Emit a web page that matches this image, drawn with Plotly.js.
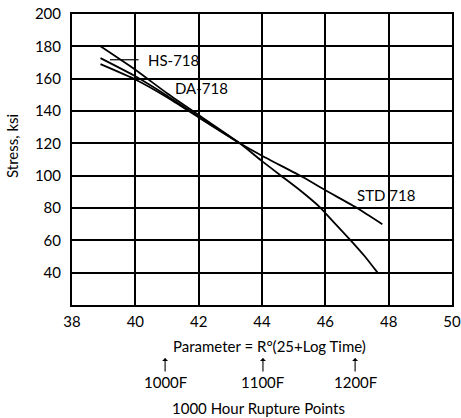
<!DOCTYPE html>
<html>
<head>
<meta charset="utf-8">
<script src="https://cdn.plot.ly/plotly-3.0.1.min.js"></script>
<style>html,body{margin:0;padding:0;background:#fff;}#chart{width:461px;height:418px;}</style>
</head>
<body>
<div id="chart"></div>
<script>
// Larson-Miller parameter vs stress (ksi)
const daX = [38.9, 40, 41, 42, 43.3, 44, 44.6, 45.2, 45.8, 46.3, 46.8, 47.25, 47.65];
const daY = [180, 165.5, 151, 137.5, 120, 109, 100, 91, 81, 70.5, 60, 50, 40];
const hsX = [38.9, 40, 41, 42, 43.3];
const hsY = [172.7, 161.5, 149.5, 136.5, 120];
const stdX = [38.9, 40, 41, 42, 43.3, 44, 45.3, 46, 47, 47.8];
const stdY = [169, 159.5, 148.5, 136, 120, 112.3, 99, 91, 80, 70];

const xTicks = [38, 40, 42, 44, 46, 48, 50];
const yTicks = [40, 60, 80, 100, 120, 140, 160, 180, 200];
const tempMarks = [40.94, 44.03, 46.94];
const tempLabels = ['1000F', '1100F', '1200F'];

const FONT = 'Lato, "Open Sans", sans-serif';
const line = {color: '#000', width: 1.8, shape: 'spline', smoothing: 0.5};

const traces = [
  {x: daX, y: daY, mode: 'lines', name: 'DA-718', line: line, hoverinfo: 'skip'},
  {x: hsX, y: hsY, mode: 'lines', name: 'HS-718', line: line, hoverinfo: 'skip'},
  {x: stdX, y: stdY, mode: 'lines', name: 'STD 718', line: line, hoverinfo: 'skip'}
];

const annotations = [
  {x: 40.35, y: 171.7, xref: 'x', yref: 'y', text: 'HS-718', showarrow: false, xanchor: 'left', yanchor: 'middle', font: {size: 15}},
  {x: 41.2, y: 154.5, xref: 'x', yref: 'y', text: 'DA-718', showarrow: false, xanchor: 'left', yanchor: 'middle', font: {size: 15}},
  {x: 46.95, y: 88, xref: 'x', yref: 'y', text: 'STD 718', showarrow: false, xanchor: 'left', yanchor: 'middle', font: {size: 15}},
  {x: (12 - 72) / 380, y: (305 - 146) / 291, xref: 'paper', yref: 'paper', text: 'Stress, ksi', textangle: -90, showarrow: false, xanchor: 'center', yanchor: 'middle', font: {size: 15}},
  {x: 0.52, y: (305 - 346) / 291, xref: 'paper', yref: 'paper', text: 'Parameter = R°(25+Log Time)', showarrow: false, xanchor: 'center', yanchor: 'middle', font: {size: 15}},
  {x: 0.49, y: (305 - 408) / 291, xref: 'paper', yref: 'paper', text: '1000 Hour Rupture Points', showarrow: false, xanchor: 'center', yanchor: 'middle', font: {size: 15}}
];
tempMarks.forEach((t, i) => {
  annotations.push({x: t, y: (305 - 382) / 291, xref: 'x', yref: 'paper', text: tempLabels[i], showarrow: false, xanchor: 'center', yanchor: 'middle', font: {size: 15}});
  annotations.push({x: t, y: (305 - 358) / 291, xref: 'x', yref: 'paper', text: '', showarrow: true, arrowhead: 1, arrowsize: 0.9, arrowwidth: 1.1, arrowcolor: '#000', ax: 0, ay: 15});
});

const shapes = [
  {type: 'line', xref: 'x', yref: 'y', x0: 39.2, x1: 40.1, y0: 171.7, y1: 171.7, line: {color: '#000', width: 1.2}}
];

const layout = {
  width: 461, height: 418,
  margin: {l: 72, r: 9, t: 14, b: 113},
  paper_bgcolor: '#fff', plot_bgcolor: '#fff',
  showlegend: false,
  font: {family: FONT, size: 15, color: '#000'},
  xaxis: {range: [38, 50], tickvals: xTicks, ticktext: xTicks.map(String), showgrid: true, gridcolor: '#000', gridwidth: 2,
          showline: true, mirror: true, linecolor: '#000', linewidth: 2, zeroline: false, ticks: '', ticklabelstandoff: 2,
          tickfont: {size: 15}},
  yaxis: {range: [20, 200], tickvals: yTicks, ticktext: yTicks.map(String), showgrid: true, gridcolor: '#000', gridwidth: 2,
          showline: true, mirror: true, linecolor: '#000', linewidth: 2, zeroline: false, ticks: '', ticklabelstandoff: 6,
          tickfont: {size: 15}},
  annotations: annotations,
  shapes: shapes
};

Plotly.newPlot('chart', traces, layout, {displayModeBar: false, staticPlot: true});
</script>
</body>
</html>
